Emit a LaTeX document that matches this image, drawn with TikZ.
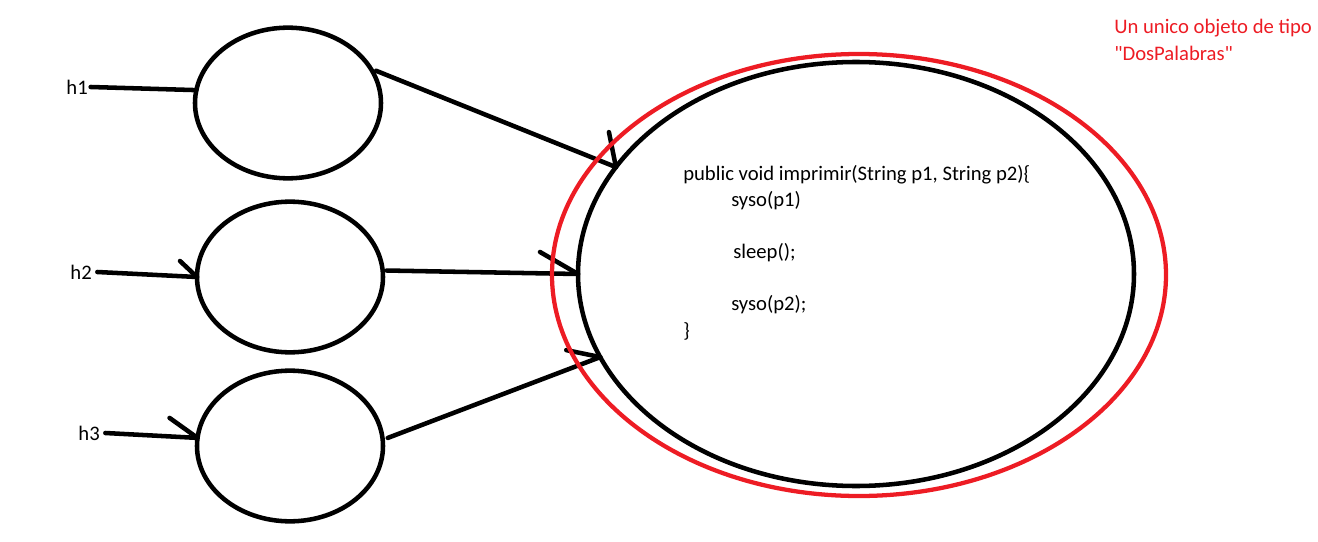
\documentclass[tikz,border=0pt]{standalone}
\usepackage{fontspec}
\setmainfont{Carlito}[Ligatures=TeXOff]
\usetikzlibrary{shapes.geometric}
\definecolor{paintred}{RGB}{237,28,36}
\begin{document}
\begin{tikzpicture}[x=0.75pt,y=-0.75pt,
  stroke/.style={line width=3.4pt,line cap=round,black},
  thread/.style={ellipse,draw,line width=3.4pt,minimum width=139.5pt,minimum height=113pt,inner sep=0pt,outer sep=0pt},
  lbl/.style={inner sep=0pt,font=\fontsize{15.5}{18}\selectfont},
  code/.style={inner sep=0pt,anchor=west,font=\fontsize{15.5}{18}\selectfont}]
\path[use as bounding box] (0,0) rectangle (1318,542);
% small ellipses
\node[thread] (e1) at (288,103) {};
\node[thread] (e2) at (290,277) {};
\node[thread] (e3) at (290,446) {};
% big object
\node[ellipse,draw,line width=3.4pt,minimum width=417pt,minimum height=318pt,inner sep=0pt,outer sep=0pt] (obj) at (856,274) {};
% labels
\node[lbl,anchor=east] (h1) at (88,87) {h1};
\node[lbl,anchor=east] (h2) at (92,272) {h2};
\node[lbl,anchor=east] (h3) at (100,433) {h3};
% incoming lines
\draw[stroke] ([xshift=2pt]h1.east) -- (e1.172);
\draw[stroke] ([xshift=4pt]h2.east) -- (e2.180);
\draw[stroke] ([xshift=4pt]h3.east) -- (e3.175);
\draw[stroke] (e2.180) -- ++(-17,-16);
\draw[stroke] (e3.175) -- ++(-28,-20);
% outgoing lines
\draw[stroke] ([xshift=3pt]e1.21) -- (obj.156);
\draw[stroke] (obj.156) -- ++(-7,-35);
\draw[stroke] ([xshift=3pt]e2.4) -- (obj.180);
\draw[stroke] (obj.180) -- ++(-38,-22);
\draw[stroke] ([xshift=4pt]e3.5) -- (obj.198.7);
\draw[stroke] (obj.198.7) -- ++(-34,-7);
% red ellipse
\node[ellipse,draw=paintred,line width=3.2pt,minimum width=460.5pt,minimum height=331.5pt,inner sep=0pt] (red) at (859,275) {};
% code
\node[code] (c1) at (683,175) {public void imprimir(String p1, String p2)\{};
\node[code] (c2) at (731,201) {syso(p1)};
\node[code] (c3) at (733,253) {sleep();};
\node[code] (c4) at (731,305) {syso(p2);};
\node[code] (c5) at (683,331) {\}};
% red note
\node[code,text=paintred] (n1) at (1114,28) {Un unico objeto de tipo};
\node[code,text=paintred] (n2) at (1114,53) {"DosPalabras"};
\end{tikzpicture}
\end{document}
